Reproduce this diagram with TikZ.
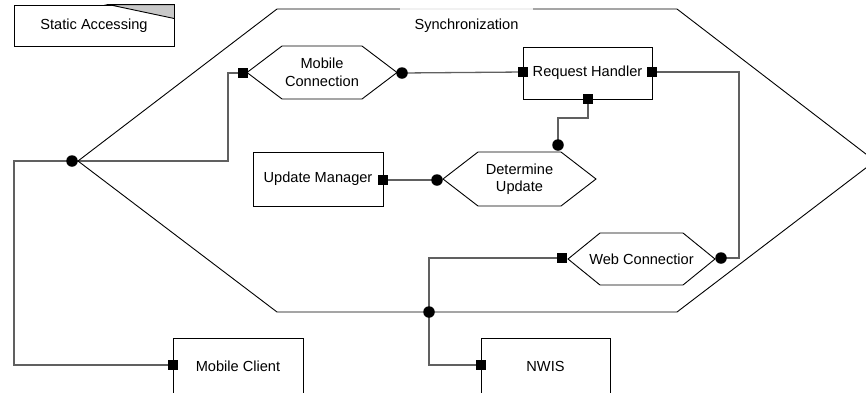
\documentclass[tikz,border=0pt]{standalone}
\usepackage{fontspec}
\setmainfont{Liberation Sans}
\usetikzlibrary{calc,backgrounds}

\definecolor{wiregray}{RGB}{96,96,96}
\definecolor{cornergray}{RGB}{200,200,200}

% hexagon: name, x, y, half width, chamfer, half height, text
\newcommand{\hexbox}[7]{%
  \draw[hexline] (#2-#4,#3) -- (#2-#4+#5,#3-#6) -- (#2+#4-#5,#3-#6) -- (#2+#4,#3)
    -- (#2+#4-#5,#3+#6) -- (#2-#4+#5,#3+#6) -- cycle;
  \node[hextext] (#1) at (#2,#3) {#7};}

\begin{document}
\begin{tikzpicture}[x=1pt, y=-1pt,
    every node/.style={font=\fontsize{14.6}{17.5}\selectfont},
    comp/.style={draw, line width=0.9pt, inner sep=0pt, fill=white},
    hexline/.style={line width=0.9pt},
    hextext/.style={align=center, inner sep=0pt},
    wire/.style={draw=wiregray, line width=1.3pt},
    port/.style={rectangle, fill=black, minimum size=10pt, inner sep=0pt},
    joint/.style={circle, fill=black, minimum size=11.5pt, inner sep=0pt}]
  \useasboundingbox (0,0) rectangle (866,392);

  % outer component
  \draw[hexline] (78,161) -- (277,9) -- (677,9) -- (875,161) -- (677,312) -- (277,312) -- cycle;
  \node[fill=white, fill opacity=0.85, text opacity=1, minimum width=133pt, minimum height=40pt] (synctitle) at (466.5,26) {Synchronization};

  \node[comp, minimum width=160pt, minimum height=41pt] (static) at (94,25.5) {Static Accessing};
  \fill[cornergray, draw=black, line width=0.9pt] ($(static.north east)+(-66,0)$) -- (static.north east) -- ($(static.north east)+(0,14)$) -- cycle;

  \node[comp, minimum width=129pt, minimum height=52pt] (handler) at (587.5,73) {Request Handler};
  \node[comp, minimum width=130pt, minimum height=54pt] (manager) at (318,179) {Update Manager};
  \node[comp, minimum width=130pt, minimum height=56pt] (client) at (238,366) {Mobile Client};
  \node[comp, minimum width=129pt, minimum height=56pt] (nwis) at (545.5,366) {NWIS};

  \hexbox{mobconn}{322}{72.5}{75}{35}{26.5}{Mobile\\Connection}
  \hexbox{determine}{519.5}{179}{76.5}{35}{27}{Determine\\Update}
  \hexbox{webconn}{641.5}{259}{73.5}{32}{26}{Web Connectior}

  % ports
  \node[port] (mcin) at (243,73) {};
  \node[joint] (mcout) at (402,73) {};
  \node[port] (rhin) at (523,72) {};
  \node[port] (rhout) at (652,72) {};
  \node[port] (rhdown) at (588,99) {};
  \node[joint] (duup) at (558,145) {};
  \node[joint] (duin) at (437,180) {};
  \node[port] (umout) at (383,180) {};
  \node[port] (wcin) at (562,258) {};
  \node[joint] (wcout) at (721,258) {};
  \node[port] (clientin) at (173,365) {};
  \node[port] (nwisin) at (481,365) {};
  \node[joint] (syncleft) at (72,161) {};
  \node[joint] (syncbottom) at (429,312) {};

  \coordinate (leftbend) at (14,161);
  \coordinate (mcbend) at (228,161);
  \coordinate (rightbend) at (739,258);

  % wires
  \begin{pgfonlayer}{background}
  \draw[wire] (clientin.center) -| (leftbend) -- (syncleft.center) -- (mcbend) |- (mcin.center);
  \draw[wire] (mcout.center) -- (rhin.center);
  \draw[wire] (rhout.center) -| (rightbend) -- (wcout.center);
  \draw[wire] (rhdown.center) -- ++(0,19) -| (duup.center);
  \draw[wire] (umout.center) -- (duin.center);
  \draw[wire] (wcin.center) -| (syncbottom.center) |- (nwisin.center);
  \end{pgfonlayer}
\end{tikzpicture}
\end{document}
